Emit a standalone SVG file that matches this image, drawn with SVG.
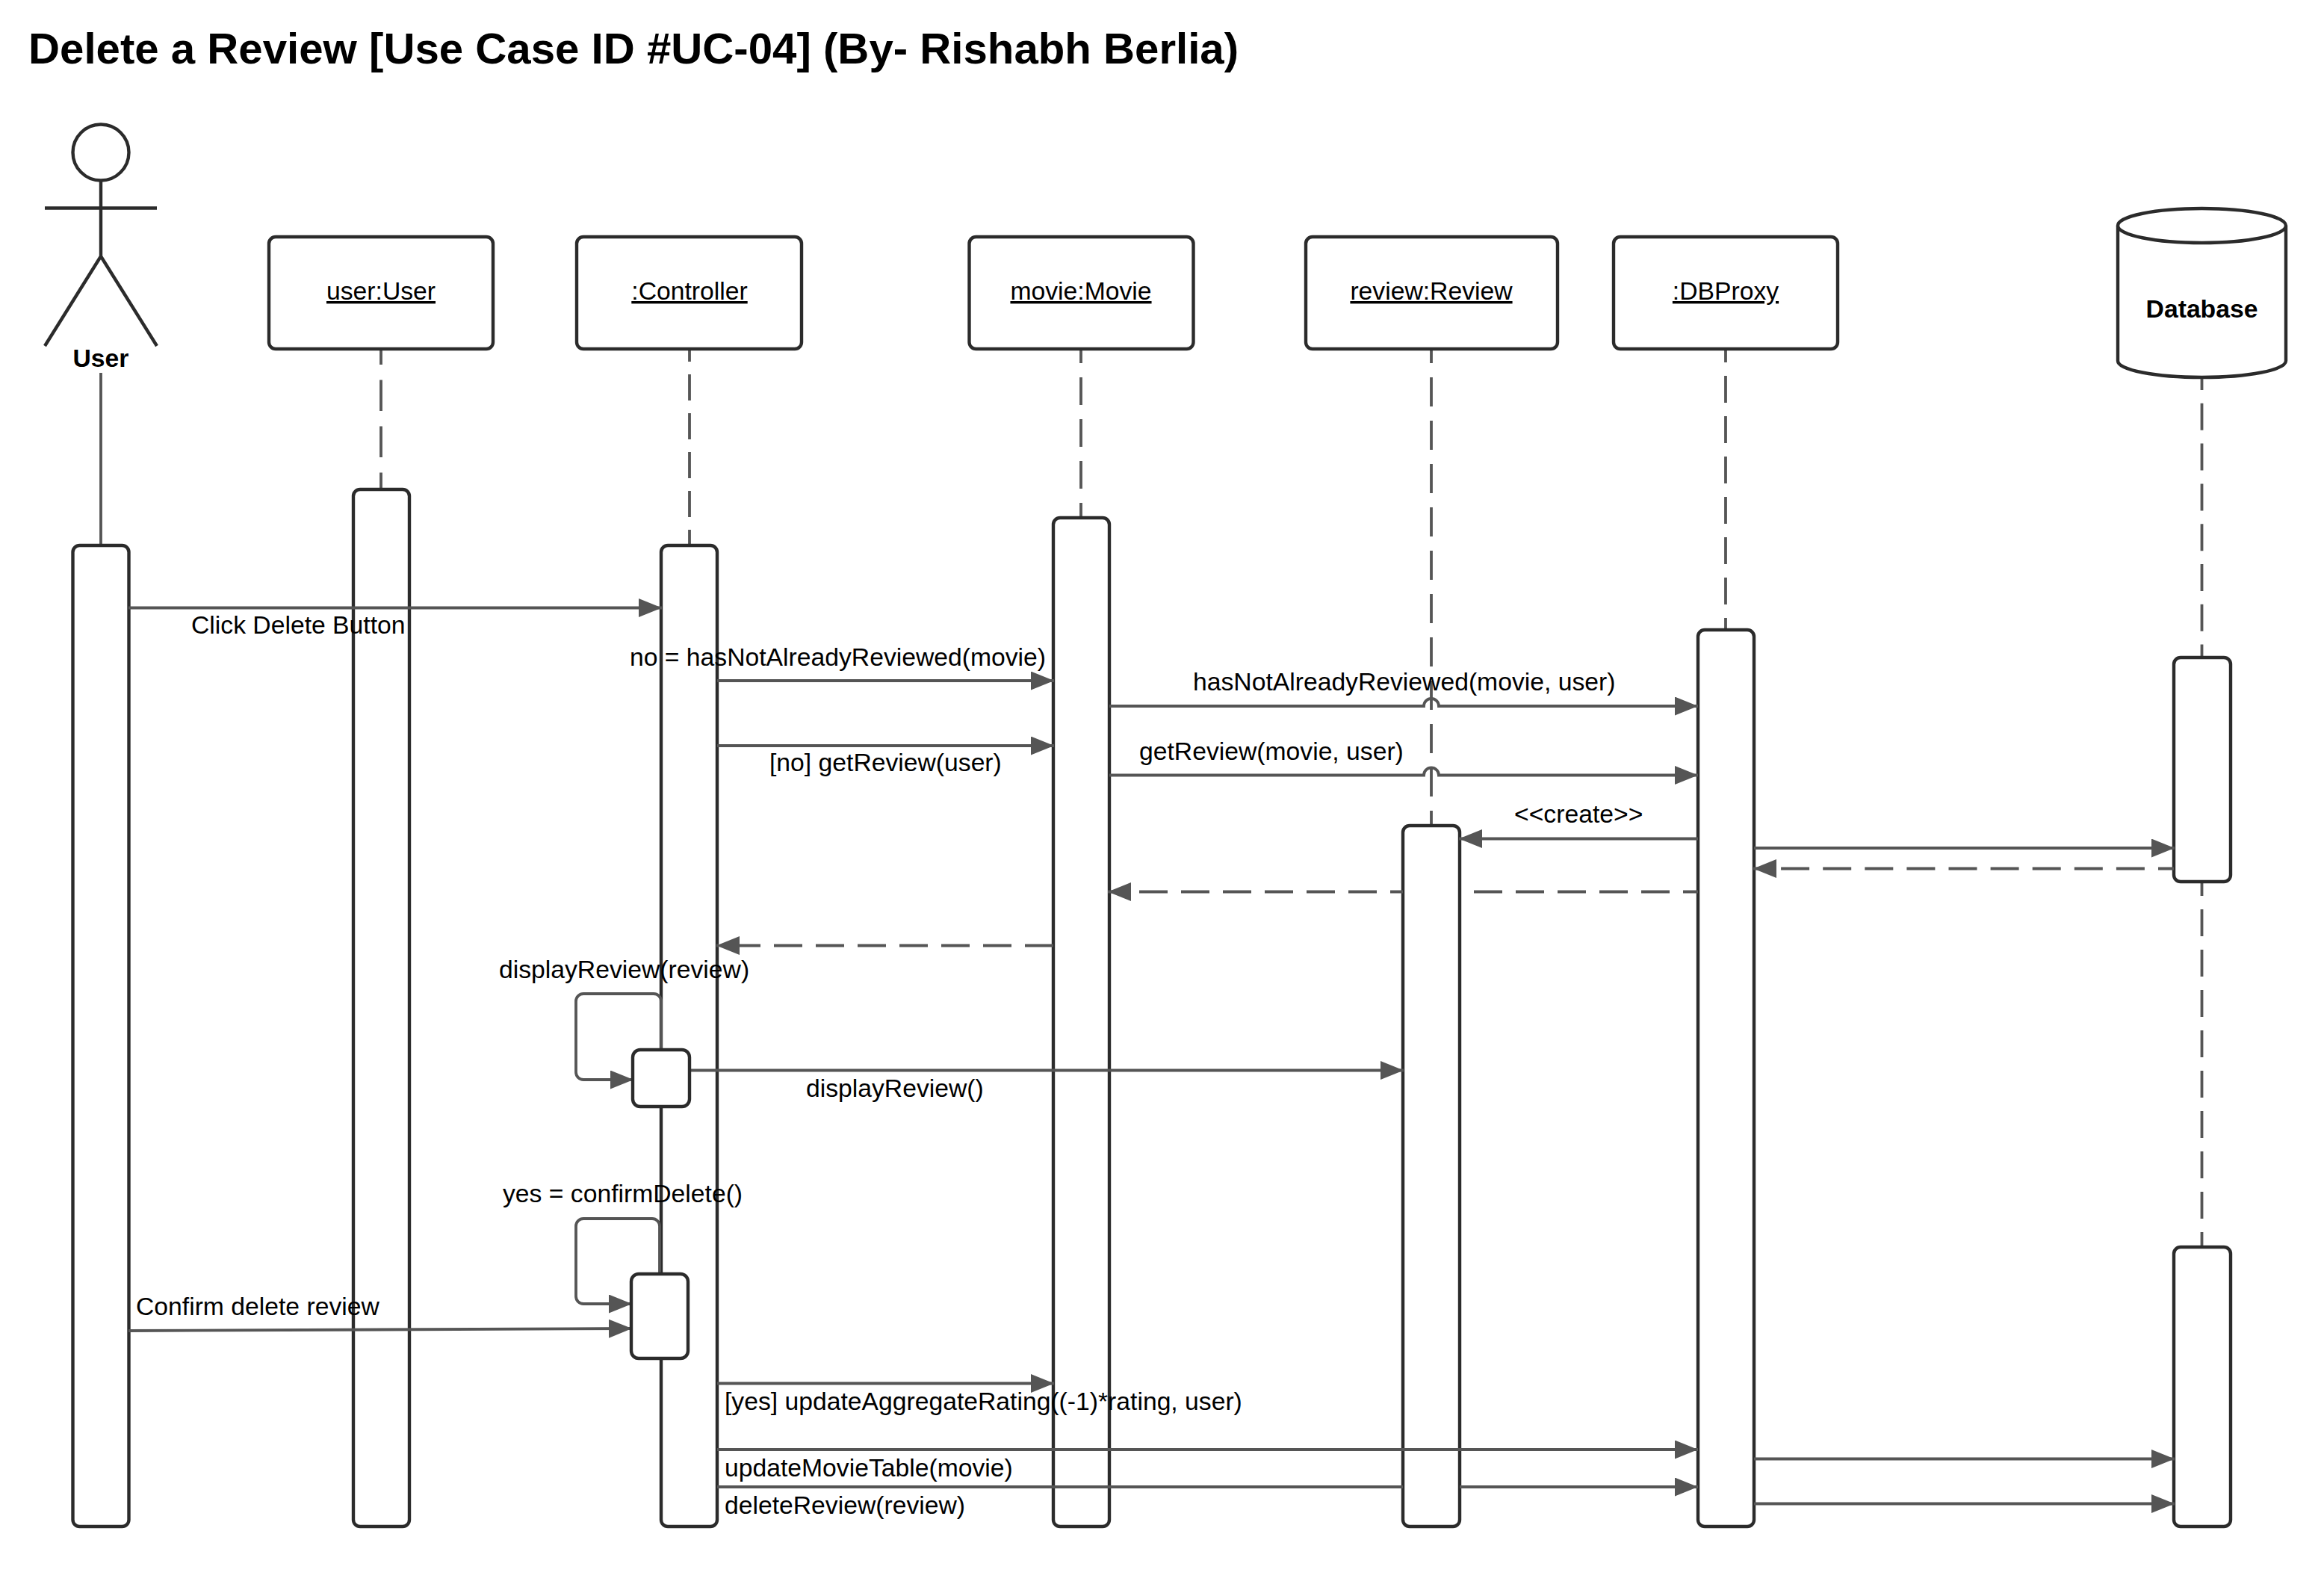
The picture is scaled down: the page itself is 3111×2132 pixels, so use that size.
<svg xmlns="http://www.w3.org/2000/svg" width="3111" height="2132" viewBox="0 0 3111 2132">
<style>
text{font-family:"Liberation Sans",Arial,sans-serif;font-size:33.7px;fill:#000}
.t{font-size:58.2px;font-weight:bold}
.b{font-weight:bold}
.m{text-anchor:middle}
.u{text-decoration:underline}
.s{fill:#fff;stroke:#2b2b2b;stroke-width:4.4;stroke-linejoin:round}
.l{fill:none;stroke:#2b2b2b;stroke-width:4.4}
.c{fill:none;stroke:#555;stroke-width:3.8}
.a{marker-end:url(#ah)}
.d{stroke-dasharray:38 18}
</style>
<defs><marker id="ah" markerUnits="userSpaceOnUse" markerWidth="34" markerHeight="26" refX="31" refY="12.500" orient="auto"><path d="M0 0L31 12.500L0 25Z" fill="#555"/></marker></defs>
<rect width="3111" height="2132" fill="#fff"/>
<text class="t" x="38" y="85">Delete a Review [Use Case ID #UC-04] (By- Rishabh Berlia)</text>
<g id="lifelines">
<path class="c" d="M135 499V730"/>
<path class="c" stroke-dasharray="41.500 20.500" stroke-dashoffset="20.500" d="M510 467V654"/>
<path class="c" stroke-dasharray="35 17" stroke-dashoffset="18" d="M923 467V729"/>
<path class="c" stroke-dasharray="37 19" stroke-dashoffset="18" d="M1447 467V692"/>
<path class="c" stroke-dasharray="39 19" stroke-dashoffset="20" d="M1916 467V1104"/>
<path class="c" stroke-dasharray="36 18" stroke-dashoffset="18" d="M2310 467V842"/>
<path class="c" stroke-dasharray="36 17.800" stroke-dashoffset="19" d="M2947.500 505V879"/>
<path class="c" stroke-dasharray="36 18" stroke-dashoffset="17" d="M2947.500 1180V1668"/>
</g>
<g id="actor-user"><circle class="l" cx="135" cy="204" r="37.500"/><path class="l" d="M60 278.500H210M135 241V343M60 463L135 343L210 463"/><text class="b m" x="135" y="491">User</text></g>
<g id="obj-user"><rect class="s" x="360" y="317" width="300" height="150" rx="9"/><text class="m u" x="510" y="401">user:User</text></g>
<g id="obj-controller"><rect class="s" x="772" y="317" width="301" height="150" rx="9"/><text class="m u" x="923" y="401">:Controller</text></g>
<g id="obj-movie"><rect class="s" x="1297.500" y="317" width="300" height="150" rx="9"/><text class="m u" x="1447" y="401">movie:Movie</text></g>
<g id="obj-review"><rect class="s" x="1748" y="317" width="337" height="150" rx="9"/><text class="m u" x="1916" y="401">review:Review</text></g>
<g id="obj-dbproxy"><rect class="s" x="2160" y="317" width="300" height="150" rx="9"/><text class="m u" x="2310" y="401">:DBProxy</text></g>
<g id="obj-database"><path class="s" d="M2835 302V483C2835 495 2885 505 2947.500 505C3010 505 3060 495 3060 483V302"/><ellipse class="s" cx="2947.500" cy="302" rx="112.500" ry="23"/><text class="b m" x="2947.500" y="425">Database</text></g>
<g id="act-user"><rect class="s" x="97.500" y="730" width="75" height="1313" rx="9"/></g>
<g id="act-user2"><rect class="s" x="473" y="655" width="75" height="1388" rx="9"/></g>
<g id="act-controller"><rect class="s" x="885" y="730" width="75" height="1313" rx="9"/></g>
<g id="act-movie"><rect class="s" x="1410" y="693" width="75" height="1350" rx="9"/></g>
<g id="act-review"><rect class="s" x="1878" y="1105" width="76" height="938" rx="9"/></g>
<g id="act-dbproxy"><rect class="s" x="2273" y="843" width="75" height="1200" rx="9"/></g>
<g id="act-db1"><rect class="s" x="2910" y="880" width="76" height="300" rx="9"/></g>
<g id="act-db2"><rect class="s" x="2910" y="1669" width="76" height="374" rx="9"/></g>
<g id="connectors">
<path class="c a" d="M172 813.500H886"/>
<path class="c a" d="M960 911H1411"/>
<path class="c a" d="M960 998H1411"/>
<path class="c a" d="M1485 945H1906A10 10 0 0 1 1926 945H2273"/>
<path class="c a" d="M1485 1037.500H1906A10 10 0 0 1 1926 1037.500H2273"/>
<path class="c a" d="M2273 1122.500H1953"/>
<path class="c a" d="M2348 1135H2911"/>
<path class="c a" stroke-dasharray="38 18.100" stroke-dashoffset="17" d="M2910 1162.500H2347"/>
<path class="c" stroke-dasharray="38 18" stroke-dashoffset="18" d="M2273 1193.500H1973"/>
<path class="c a" stroke-dasharray="38 18" stroke-dashoffset="21" d="M1878 1193.500H1483"/>
<path class="c a d" d="M1410 1265.500H959"/>
<path class="c a" d="M885 1405V1340A10 10 0 0 0 875 1330H781A10 10 0 0 0 771 1340V1435A10 10 0 0 0 781 1445H848"/>
<path class="c a" d="M923 1432.500H1879"/>
<path class="c a" d="M883 1705V1641A10 10 0 0 0 873 1631H781A10 10 0 0 0 771 1641V1735A10 10 0 0 0 781 1745H846"/>
<path class="c a" d="M172 1781L846 1778"/>
<path class="c a" d="M960 1851.500H1411"/>
<path class="c a" d="M960 1940H2273"/>
<path class="c" d="M960 1990H1878"/>
<path class="c a" d="M1954 1990H2273"/>
<path class="c a" d="M2348 1952.500H2911"/>
<path class="c a" d="M2348 2012.500H2911"/>
</g>
<g id="act-small"><rect class="s" x="847" y="1405" width="76" height="76" rx="10"/><rect class="s" x="845" y="1705" width="76" height="113" rx="10"/></g>
<g id="labels">
<text x="256" y="848">Click Delete Button</text>
<text x="843" y="891">no = hasNotAlreadyReviewed(movie)</text>
<text x="1030" y="1032">[no] getReview(user)</text>
<text x="1597" y="924">hasNotAlreadyReviewed(movie, user)</text>
<text x="1525" y="1017">getReview(movie, user)</text>
<text x="2027" y="1101">&lt;&lt;create&gt;&gt;</text>
<text x="668" y="1309">displayReview(review)</text>
<text x="1079" y="1468">displayReview()</text>
<text x="673" y="1609">yes = confirmDelete()</text>
<text x="182" y="1760">Confirm delete review</text>
<text x="970" y="1887">[yes] updateAggregateRating((-1)*rating, user)</text>
<text x="970" y="1976">updateMovieTable(movie)</text>
<text x="970" y="2026">deleteReview(review)</text>
</g>
</svg>
